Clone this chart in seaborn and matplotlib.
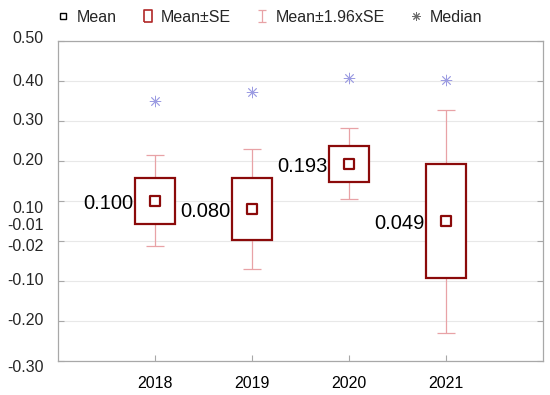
import numpy as np
import pandas as pd
import matplotlib
matplotlib.use("Agg")
import matplotlib.pyplot as plt
from matplotlib.lines import Line2D
from matplotlib.patches import Rectangle
from matplotlib.path import Path
import seaborn as sns

# values
years = ["2018", "2019", "2020", "2021"]
means = [0.100, 0.080, 0.193, 0.049]
se = [0.058, 0.077, 0.045, 0.1425]
medians = [0.349, 0.373, 0.408, 0.403]
mean_labels = ["0.100", "0.080", "0.193", "0.049"]

ytick_values = [0.5, 0.4, 0.3, 0.2, 0.1, 0.0, -0.1, -0.2, -0.3]
ytick_labels = ["0.50", "0.40", "0.30", "0.20", "0.10", "-0.02", "-0.10", "-0.20", "-0.30"]
extra_ylabel = "-0.01"

df = pd.DataFrame({"year": years, "mean": means, "se": se, "median": medians})
df["pos"] = np.arange(len(df))

sns.set_theme(style="white")
plt.rcParams["font.family"] = ["Liberation Sans", "DejaVu Sans"]

dark_red = "#8b0a0a"
pink = "#e8a2a6"
blue = "#9c9ce2"
box_w = 0.41

fig, ax = plt.subplots(figsize=(5.5, 3.95), dpi=100)
fig.subplots_adjust(left=0.1055, right=0.987, top=0.896, bottom=0.0873)

# 1.96 x SE whiskers
ax.errorbar(df["pos"], df["mean"], yerr=1.96 * df["se"], fmt="none",
            ecolor=pink, elinewidth=0.9, capsize=6.8, capthick=0.9, zorder=1)

# mean +- SE boxes
for p, m, s in zip(df["pos"], df["mean"], df["se"]):
    ax.add_patch(Rectangle((p - box_w / 2, m - s), box_w, 2 * s, facecolor="white",
                           edgecolor=dark_red, linewidth=1.6, zorder=2))

# means
sns.scatterplot(data=df, x="pos", y="mean", marker="s", s=52, facecolor="white",
                edgecolor=dark_red, linewidth=1.6, zorder=3, ax=ax, legend=False)

# medians
sns.scatterplot(data=df, x="pos", y="median", marker=(8, 2, 0), s=60, color=blue,
                linewidth=0.6, zorder=3, ax=ax, legend=False)

for p, m, lbl in zip(df["pos"], df["mean"], mean_labels):
    ax.annotate(lbl, xy=(p - box_w / 2, m), xytext=(-1, -2), textcoords="offset points",
                ha="right", va="center", fontsize=14.5, color="black")

ax.set_xlim(-1, 4)
ax.set_ylim(-0.3, 0.5)
ax.set_xticks(df["pos"], years)
ax.set_yticks(ytick_values, [""] * len(ytick_values))
ax.set_xlabel("")
ax.set_ylabel("")

ax.yaxis.grid(True, color="#e8e8e8", linewidth=0.8)
ax.xaxis.grid(False)
ax.set_axisbelow(True)
for sp in ax.spines.values():
    sp.set_visible(True)
    sp.set_color("#a8a8a8")
    sp.set_linewidth(0.9)

ax.tick_params(axis="both", direction="in", length=4.5, width=0.8, colors="#a8a8a8",
               labelcolor="black", left=True, right=True, bottom=True, top=False)
ax.tick_params(axis="x", labelsize=11.5, pad=11)

# y labels, some nudged like in the original
nudge_px = {"0.50": 3, "0.10": -8, "-0.02": -6, "-0.30": -7}
ytrans = ax.get_yaxis_transform()
for v, lbl in zip(ytick_values, ytick_labels):
    dy = nudge_px.get(lbl, 0) * 0.72
    ax.annotate(lbl, xy=(0, v), xycoords=ytrans, xytext=(-10.6, dy),
                textcoords="offset points", ha="right", va="center",
                fontsize=11.5, annotation_clip=False)
ax.annotate(extra_ylabel, xy=(0, 0.1), xycoords=ytrans, xytext=(-10.6, -25 * 0.72),
            textcoords="offset points", ha="right", va="center",
            fontsize=11.5, annotation_clip=False)

# legend
se_marker = [(-0.35, -0.5), (0.35, -0.5), (0.35, 0.5), (-0.35, 0.5), (-0.35, -0.5)]
i_marker = Path([(-0.3, 0.5), (0.3, 0.5), (0, 0.5), (0, -0.5), (-0.3, -0.5), (0.3, -0.5)],
                [Path.MOVETO, Path.LINETO, Path.MOVETO, Path.LINETO, Path.MOVETO, Path.LINETO])
handles = [
    Line2D([], [], ls="none", marker="s", markersize=5, markerfacecolor="white",
           markeredgecolor="black", markeredgewidth=1.0),
    Line2D([], [], ls="none", marker=se_marker, markersize=9, markerfacecolor="none",
           markeredgecolor="#b02828", markeredgewidth=1.2),
    Line2D([], [], ls="none", marker=i_marker, markersize=9, markerfacecolor="none",
           markeredgecolor=pink, markeredgewidth=0.9),
    Line2D([], [], ls="none", marker=(8, 2, 0), markersize=6, color="#6a6a6a",
           markeredgewidth=0.7),
]
fig.legend(handles, ["Mean", "Mean±SE", "Mean±1.96xSE", "Median"],
           loc="center left", bbox_to_anchor=(56.5 / 550, 1 - 17 / 395), ncol=4,
           frameon=False, handlelength=0.8, handletextpad=0.45, columnspacing=1.55,
           borderpad=0, borderaxespad=0, fontsize=11.5)

fig.savefig("out.png", dpi=100)
